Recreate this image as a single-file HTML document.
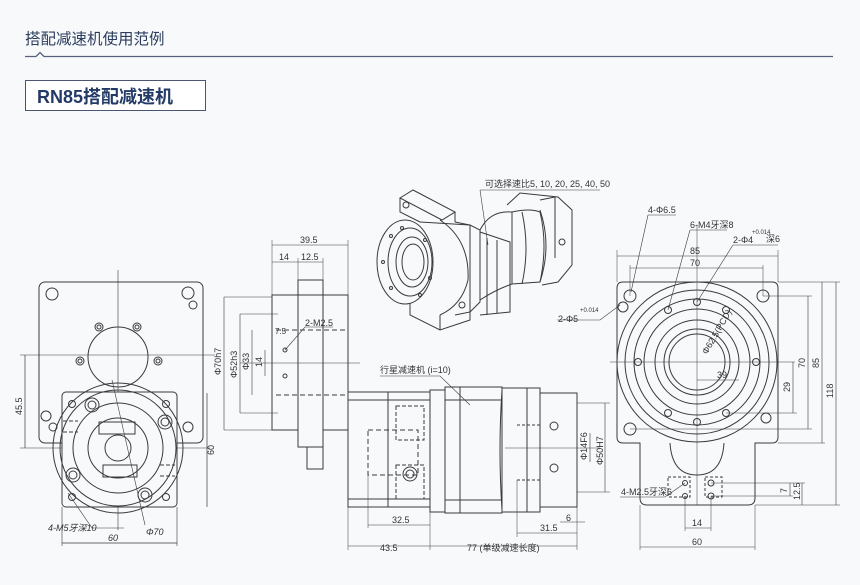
<!DOCTYPE html>
<html><head><meta charset="utf-8"><style>
html,body{margin:0;padding:0;background:#f8f9fb;}
svg{display:block}
text{font-family:"Liberation Sans","Noto Sans CJK SC",sans-serif;}
</style></head><body>
<svg width="860" height="585" viewBox="0 0 860 585" xmlns="http://www.w3.org/2000/svg">
<rect width="860" height="585" fill="#f8f9fb"/>
<text x="25" y="44" font-size="15.5" fill="#2c3d5e">搭配减速机使用范例</text>
<path d="M25 56.5 H36 L40 52.5 L44 56.5 H833" stroke="#55607a" stroke-width="1.3" fill="none"/>
<rect x="25.5" y="80.5" width="180" height="30" fill="#fff" stroke="#4a5570"/>
<text x="37" y="103" font-size="18" font-weight="bold" fill="#233a66">RN85搭配减速机</text>

<g stroke="#3a3a3a" stroke-width="1" fill="none">
<!-- LEFT VIEW -->
<rect x="39" y="282" width="164" height="161" rx="6"/>
<line x1="118" y1="270" x2="118" y2="530" stroke-width="0.6"/>
<line x1="20" y1="448" x2="210" y2="448" stroke-width="0.6"/>
<line x1="20" y1="355" x2="215" y2="355" stroke-width="0.6"/>
<circle cx="52" cy="294" r="6"/><circle cx="188" cy="293" r="6"/><circle cx="193" cy="305" r="4"/>
<circle cx="46" cy="416" r="5"/><circle cx="53" cy="427" r="4"/><circle cx="188" cy="427" r="5"/>
<circle cx="118" cy="357" r="30"/>
<circle cx="99" cy="327" r="4"/><circle cx="99" cy="327" r="2"/><circle cx="137" cy="327" r="4"/><circle cx="137" cy="327" r="2"/>
<circle cx="80" cy="361" r="4"/><circle cx="80" cy="361" r="2"/><circle cx="158" cy="361" r="4"/><circle cx="158" cy="361" r="2"/>
<rect x="62" y="392" width="115" height="115" rx="4" fill="#f8f9fb"/>
<circle cx="118" cy="448" r="65"/>
<circle cx="118" cy="448" r="58"/>
<circle cx="118" cy="448" r="45"/>
<circle cx="118" cy="448" r="30"/>
<circle cx="118" cy="448" r="13"/>
<rect x="99" y="422" width="36" height="12"/><rect x="103" y="465" width="34" height="12"/>
<circle cx="92" cy="405" r="7"/><circle cx="92" cy="405" r="4"/>
<circle cx="165" cy="422" r="7"/><circle cx="165" cy="422" r="4"/>
<circle cx="73" cy="475" r="7"/><circle cx="73" cy="475" r="4"/>
<circle cx="145" cy="495" r="7"/><circle cx="145" cy="495" r="4"/>
<circle cx="72" cy="404" r="3.5"/><circle cx="166" cy="404" r="3.5"/><circle cx="72" cy="497" r="3.5"/><circle cx="166" cy="497" r="3.5"/>
<path d="M63 421 H78 M63 432 H78 M160 465 H175 M160 476 H175" stroke-dasharray="4 2"/>
<line x1="25" y1="355" x2="25" y2="448" stroke-width="0.7"/>
<line x1="207" y1="393" x2="207" y2="507" stroke-width="0.7"/>
<line x1="62" y1="543" x2="177" y2="543" stroke-width="0.7"/>
<line x1="62" y1="507" x2="62" y2="546" stroke-width="0.6"/><line x1="177" y1="507" x2="177" y2="546" stroke-width="0.6"/>
<line x1="112" y1="380" x2="145" y2="525" stroke-width="0.6"/>
<path d="M68 493 L92 528 H124" stroke-width="0.6"/>

<!-- MIDDLE SIDE VIEW -->
<rect x="272" y="295" width="76" height="135"/>
<rect x="298" y="280" width="25" height="167" fill="#f8f9fb"/>
<rect x="298" y="280" width="25" height="15"/>
<rect x="307" y="447" width="16" height="22"/>
<line x1="272" y1="245" x2="348" y2="245" stroke-width="0.6"/>
<line x1="272" y1="262" x2="323" y2="262" stroke-width="0.6"/>
<line x1="272" y1="240" x2="272" y2="295" stroke-width="0.5"/><line x1="348" y1="240" x2="348" y2="295" stroke-width="0.5"/>
<line x1="298" y1="258" x2="298" y2="280" stroke-width="0.5"/><line x1="323" y1="258" x2="323" y2="280" stroke-width="0.5"/>
<path d="M276 330 H348 M276 395 H348" stroke-dasharray="5 3"/>
<line x1="240" y1="363" x2="360" y2="363" stroke-width="0.5"/>
<circle cx="285" cy="350" r="2"/><circle cx="285" cy="376" r="2"/>
<line x1="224" y1="297" x2="224" y2="430" stroke-width="0.6"/><line x1="224" y1="297" x2="272" y2="297" stroke-width="0.5"/><line x1="224" y1="430" x2="272" y2="430" stroke-width="0.5"/>
<line x1="240" y1="314" x2="240" y2="413" stroke-width="0.6"/><line x1="240" y1="314" x2="278" y2="314" stroke-width="0.5"/><line x1="240" y1="413" x2="278" y2="413" stroke-width="0.5"/>
<line x1="252" y1="330" x2="252" y2="395" stroke-width="0.6"/>
<line x1="265" y1="350" x2="265" y2="376" stroke-width="0.6"/>
<path d="M285 350 L305 327 H333" stroke-width="0.6"/>
<!-- gearbox -->
<rect x="348" y="392" width="82" height="115"/>
<line x1="348" y1="400" x2="430" y2="400"/><line x1="348" y1="499" x2="430" y2="499"/>
<line x1="388" y1="392" x2="388" y2="507"/>
<rect x="368" y="430" width="50" height="45" stroke-dasharray="5 3"/>
<rect x="396" y="406" width="28" height="34" stroke-dasharray="4 2"/>
<rect x="396" y="465" width="28" height="34" stroke-dasharray="4 2"/>
<circle cx="410" cy="474" r="7"/><circle cx="410" cy="474" r="4"/>
<rect x="430" y="390" width="15" height="122"/>
<rect x="445" y="387" width="57" height="126"/>
<line x1="445" y1="400" x2="502" y2="400"/><line x1="445" y1="500" x2="502" y2="500"/>
<line x1="460" y1="387" x2="460" y2="513"/>
<path d="M502 390 Q498 450 502 510"/>
<rect x="502" y="388" width="38" height="124"/>
<line x1="527" y1="388" x2="527" y2="512"/>
<rect x="540" y="393" width="37" height="114"/>
<path d="M517 425 H540 M517 480 H540" stroke-dasharray="3 2"/>
<circle cx="554" cy="426" r="4"/><circle cx="554" cy="468" r="4"/>
<line x1="505" y1="448" x2="600" y2="448" stroke-width="0.5"/>
<line x1="577" y1="403" x2="610" y2="403" stroke-width="0.5"/><line x1="577" y1="492" x2="610" y2="492" stroke-width="0.5"/>
<line x1="605" y1="403" x2="605" y2="492" stroke-width="0.6"/>
<line x1="590" y1="433" x2="590" y2="462" stroke-width="0.6"/>
<line x1="348" y1="546" x2="430" y2="546" stroke-width="0.6"/>
<line x1="430" y1="546" x2="577" y2="546" stroke-width="0.6"/>
<line x1="368" y1="525" x2="430" y2="525" stroke-width="0.6"/>
<line x1="517" y1="533" x2="577" y2="533" stroke-width="0.6"/>
<line x1="560" y1="522" x2="585" y2="522" stroke-width="0.6"/>
<line x1="348" y1="507" x2="348" y2="550" stroke-width="0.5"/><line x1="430" y1="512" x2="430" y2="550" stroke-width="0.5"/>
<line x1="577" y1="507" x2="577" y2="550" stroke-width="0.5"/><line x1="368" y1="475" x2="368" y2="528" stroke-width="0.5"/>
<line x1="517" y1="480" x2="517" y2="537" stroke-width="0.5"/>
<path d="M380 376 H440 L470 405" stroke-width="0.6"/>

<!-- ISO VIEW -->
<!-- top mounting block -->
<path d="M400 198 L413 190 L455 212 L442 220 Z"/>
<path d="M400 198 L400 212 L420 222 M455 212 L455 222"/>
<circle cx="406" cy="205" r="3"/>
<!-- housing -->
<path d="M420 222 L470 225 L480 230 L480 302 L470 312"/>
<path d="M455 222 L470 225 L470 312 L455 315"/>
<path d="M440 220 Q470 240 468 280 Q462 305 440 315"/>
<!-- bottom block -->
<path d="M410 292 L410 315 L440 330 L470 320 L470 312"/>
<path d="M440 315 L440 330"/>
<circle cx="462" cy="305" r="3"/>
<!-- flange -->
<ellipse cx="405" cy="262" rx="28" ry="42" fill="#f8f9fb"/>
<ellipse cx="410" cy="262" rx="22" ry="34"/>
<ellipse cx="412" cy="262" rx="16" ry="25"/>
<ellipse cx="413" cy="262" rx="11" ry="18"/>
<circle cx="391" cy="236" r="1.5"/><circle cx="402" cy="228" r="1.5"/><circle cx="425" cy="240" r="1.5"/><circle cx="383" cy="262" r="1.5"/><circle cx="391" cy="288" r="1.5"/><circle cx="420" cy="295" r="1.5"/><circle cx="430" cy="278" r="1.5"/>
<!-- cylinder -->
<path d="M480 230 Q490 210 512 212 L512 284 Q495 290 480 300"/>
<path d="M480 232 L510 242 L510 312 L480 315"/>
<path d="M487 238 L487 315 M497 240 L497 313"/>
<path d="M512 212 Q530 208 540 212 Q548 245 540 282 L512 284"/>
<path d="M522 212 Q530 248 522 284"/>
<!-- end cap -->
<path d="M507 205 L520 193 L558 197 L572 210 L572 265 L558 282 L542 285"/>
<path d="M540 200 L555 197 M555 197 L555 258 M540 210 Q552 245 540 282"/>
<circle cx="562" cy="242" r="3"/>
<path d="M480 190 H600 M480 190 L488 245" stroke-width="0.6"/>
<path d="M557 320 H600 L620 305" stroke-width="0.6"/>

<!-- RIGHT VIEW -->
<path d="M623 282 H772 Q778 282 778 288 V437 Q778 443 772 443 H755 V498 Q755 505 748 505 H647 Q640 505 640 498 V443 H623 Q617 443 617 437 V288 Q617 282 623 282 Z"/>
<circle cx="697" cy="362" r="80" fill="#f8f9fb"/>
<circle cx="697" cy="362" r="72"/>
<circle cx="697" cy="362" r="63"/>
<circle cx="697" cy="362" r="53"/>
<circle cx="697" cy="362" r="42"/>
<circle cx="697" cy="362" r="33"/>
<circle cx="697" cy="362" r="28"/>
<circle cx="630" cy="296" r="6"/><circle cx="763" cy="296" r="6"/><circle cx="630" cy="429" r="6"/><circle cx="766" cy="418" r="5"/><circle cx="623" cy="307" r="5"/>
<circle cx="697" cy="302" r="3.5"/><circle cx="697" cy="422" r="3.5"/>
<circle cx="668" cy="310" r="3.5"/><circle cx="726" cy="310" r="3.5"/><circle cx="668" cy="413" r="3.5"/><circle cx="726" cy="413" r="3.5"/>
<circle cx="638" cy="362" r="3.5"/><circle cx="756" cy="362" r="3.5"/>
<path d="M670 443 Q672 475 697 475 Q722 475 724 443"/>
<rect x="668" y="477" width="22" height="20" stroke-dasharray="3 2"/>
<rect x="705" y="477" width="17" height="20" stroke-dasharray="3 2"/>
<circle cx="685" cy="483" r="2.5"/><circle cx="685" cy="496" r="2.5"/><circle cx="711" cy="483" r="3"/><circle cx="711" cy="496" r="3"/>
<line x1="697" y1="225" x2="697" y2="505" stroke-width="0.5"/>
<line x1="610" y1="362" x2="795" y2="362" stroke-width="0.5"/>
<line x1="617" y1="256" x2="778" y2="256" stroke-width="0.6"/>
<line x1="630" y1="268" x2="763" y2="268" stroke-width="0.6"/>
<line x1="617" y1="250" x2="617" y2="282" stroke-width="0.5"/><line x1="778" y1="250" x2="778" y2="282" stroke-width="0.5"/>
<line x1="630" y1="265" x2="630" y2="296" stroke-width="0.5"/><line x1="763" y1="265" x2="763" y2="296" stroke-width="0.5"/>
<line x1="778" y1="282" x2="840" y2="282" stroke-width="0.5"/><line x1="755" y1="505" x2="840" y2="505" stroke-width="0.5"/>
<line x1="836" y1="282" x2="836" y2="505" stroke-width="0.6"/>
<line x1="822" y1="282" x2="822" y2="443" stroke-width="0.6"/><line x1="778" y1="443" x2="825" y2="443" stroke-width="0.5"/>
<line x1="808" y1="296" x2="808" y2="429" stroke-width="0.6"/><line x1="763" y1="296" x2="812" y2="296" stroke-width="0.5"/><line x1="630" y1="429" x2="812" y2="429" stroke-width="0.5"/>
<line x1="793" y1="362" x2="793" y2="413" stroke-width="0.6"/><line x1="726" y1="413" x2="797" y2="413" stroke-width="0.5"/>
<line x1="697" y1="380" x2="739" y2="380" stroke-width="0.6"/>
<line x1="790" y1="483" x2="790" y2="496" stroke-width="0.6"/><line x1="802" y1="483" x2="802" y2="505" stroke-width="0.6"/>
<line x1="711" y1="483" x2="805" y2="483" stroke-width="0.5"/><line x1="711" y1="496" x2="793" y2="496" stroke-width="0.5"/>
<line x1="685" y1="528" x2="711" y2="528" stroke-width="0.6"/>
<line x1="640" y1="547" x2="755" y2="547" stroke-width="0.6"/>
<line x1="640" y1="505" x2="640" y2="550" stroke-width="0.5"/><line x1="755" y1="505" x2="755" y2="550" stroke-width="0.5"/>
<line x1="685" y1="496" x2="685" y2="531" stroke-width="0.5"/><line x1="711" y1="496" x2="711" y2="531" stroke-width="0.5"/>
<path d="M648 215 L631 292 M648 215 H676" stroke-width="0.6"/>
<path d="M690 230 L668 310 M690 230 H727" stroke-width="0.6"/>
<path d="M733 245 L697 302 M733 245 H778" stroke-width="0.6"/>
<path d="M620 497 H665 L685 483" stroke-width="0.6"/>
</g>

<g fill="#333" font-size="9">
<text x="48" y="531" font-style="italic">4-M5牙深10</text>
<text x="146" y="535" font-style="italic">Φ70</text>
<text x="108" y="541" font-style="italic">60</text>
<text x="22" y="415" transform="rotate(-90 22 415)">45.5</text>
<text x="214" y="455" transform="rotate(-90 214 455)">60</text>
<text x="300" y="243">39.5</text>
<text x="279" y="260">14</text>
<text x="301" y="260">12.5</text>
<text x="305" y="326">2-M2.5</text>
<text x="275" y="334" font-size="8">7.5</text>
<text x="221" y="375" transform="rotate(-90 221 375)">Φ70h7</text>
<text x="237" y="378" transform="rotate(-90 237 378)">Φ52h3</text>
<text x="249" y="370" transform="rotate(-90 249 370)">Φ33</text>
<text x="262" y="367" transform="rotate(-90 262 367)">14</text>
<text x="380" y="373">行星减速机 (i=10)</text>
<text x="485" y="187">可选择速比5, 10, 20, 25, 40, 50</text>
<text x="558" y="322">2-Φ5</text><text x="580" y="312" font-size="6">+0.014</text>
<text x="587" y="460" transform="rotate(-90 587 460)">Φ14F6</text>
<text x="603" y="465" transform="rotate(-90 603 465)">Φ50H7</text>
<text x="392" y="523">32.5</text>
<text x="380" y="551">43.5</text>
<text x="467" y="551">77 (单级减速长度)</text>
<text x="540" y="531">31.5</text>
<text x="566" y="521">6</text>
<text x="648" y="213">4-Φ6.5</text>
<text x="690" y="228">6-M4牙深8</text>
<text x="733" y="243">2-Φ4</text><text x="752" y="234" font-size="6">+0.014</text><text x="766" y="242">深6</text>
<text x="690" y="254">85</text>
<text x="690" y="266">70</text>
<text x="717" y="378">39</text>
<text x="707" y="355" transform="rotate(-60 707 355)">Φ62.5(PCD)</text>
<text x="833" y="398" transform="rotate(-90 833 398)">118</text>
<text x="819" y="368" transform="rotate(-90 819 368)">85</text>
<text x="805" y="368" transform="rotate(-90 805 368)">70</text>
<text x="790" y="392" transform="rotate(-90 790 392)">29</text>
<text x="621" y="495">4-M2.5牙深6</text>
<text x="787" y="493" transform="rotate(-90 787 493)">7</text>
<text x="800" y="500" transform="rotate(-90 800 500)">12.5</text>
<text x="692" y="526">14</text>
<text x="692" y="545">60</text>
</g>
</svg>
</body></html>
